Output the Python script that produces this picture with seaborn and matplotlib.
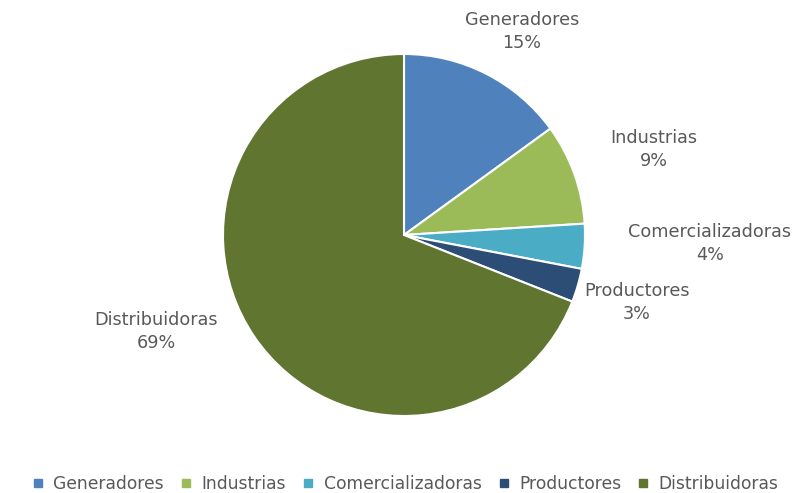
import numpy as np
import matplotlib
matplotlib.use("Agg")
import matplotlib.pyplot as plt
from matplotlib.lines import Line2D
import seaborn as sns

sns.set_theme(style="white")
plt.rcParams["font.family"] = ["DejaVu Sans"]

# ── Data ──────────────────────────────────────────────────────
categories = ["Generadores", "Industrias", "Comercializadoras", "Productores", "Distribuidoras"]
shares = [15, 9, 4, 3, 69]
colors = ["#4F81BD", "#9BBB59", "#4BACC6", "#2C4D75", "#5F7530"]

# label placement (radial distance, angle nudge in degrees)
label_dist = [1.30, 1.46, 1.69, 1.34, 1.47]
label_nudge = [-3, -1, 2, 0, -13]

TEXT = "#595959"

fig = plt.figure(figsize=(7.92, 4.93), dpi=100)
ax = fig.add_axes([(404 - 181) / 792, (258 - 181) / 493, 362 / 792, 362 / 493])

wedges, _ = ax.pie(shares, colors=colors, startangle=90, counterclock=False,
                   wedgeprops=dict(edgecolor="white", linewidth=1.5))
ax.set_xlim(-1, 1)
ax.set_ylim(-1, 1)
ax.set_aspect("equal")

for w, name, val, d, nudge in zip(wedges, categories, shares, label_dist, label_nudge):
    ang = np.deg2rad((w.theta1 + w.theta2) / 2 + nudge)
    ax.text(d * np.cos(ang), d * np.sin(ang), f"{name}\n{val}%",
            ha="center", va="center", fontsize=12.7, color=TEXT,
            linespacing=1.35, clip_on=False)

handles = [Line2D([0], [0], marker="s", linestyle="none", markersize=6,
                  markerfacecolor=c, markeredgecolor=c) for c in colors]
fig.legend(handles, categories, loc="center", bbox_to_anchor=(0.51, 1 - 484 / 493),
           ncol=5, frameon=False, fontsize=12.3, labelcolor=TEXT,
           handletextpad=0.4, columnspacing=0.8, handlelength=1.0)

plt.savefig("out.png", dpi=100)
plt.close()
